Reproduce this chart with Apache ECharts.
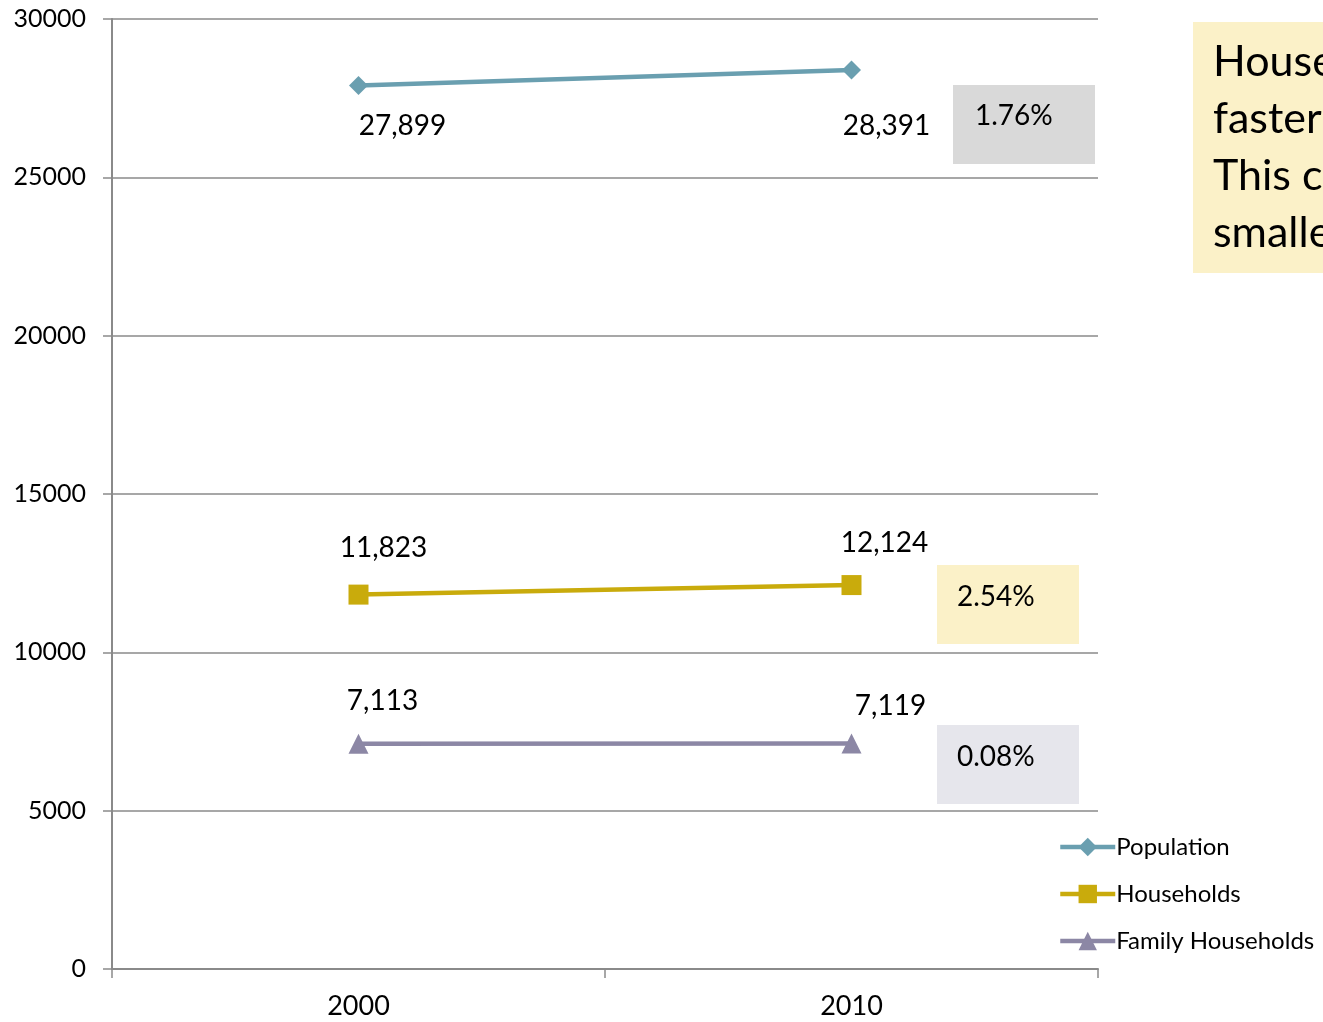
<!DOCTYPE html>
<html>
<head>
<meta charset="utf-8">
<script src="https://cdn.jsdelivr.net/npm/echarts@6/dist/echarts.min.js"></script>
<style>
  html, body { margin: 0; padding: 0; background: #fff; }
  #chart { width: 1323px; height: 1022px; }
</style>
</head>
<body>
<div id="chart"></div>
<script>
// Census counts, 2000 vs 2010
const years = ['2000', '2010'];
const population = [27899, 28391];
const households = [11823, 12124];
const familyHouseholds = [7113, 7119];
const changeLabels = ['1.76%', '2.54%', '0.08%'];
const yTicks = { min: 0, max: 30000, interval: 5000 };

const FONT = 'Lato, "Open Sans", sans-serif';

// per-point label offsets (px) relative to each marker
const popOffsets = [[44, 40], [35, 56]];
const hhOffsets = [[25, -47], [33, -42]];
const famOffsets = [[24, -43], [39, -38]];

function fmt(v) { return v.toLocaleString('en-US'); }

function points(values, offsets) {
  return values.map((v, i) => ({
    value: v,
    label: {
      show: true,
      position: 'inside',
      offset: offsets[i],
      formatter: () => fmt(v),
      color: '#000',
      fontSize: 28,
      fontFamily: FONT
    }
  }));
}

const chart = echarts.init(document.getElementById('chart'));

const option = {
  animation: false,
  backgroundColor: '#fff',
  grid: { left: 112, right: 225, top: 19, bottom: 53 },
  legend: {
    orient: 'vertical',
    left: 1058,
    top: 835,
    padding: 0,
    itemWidth: 55,
    itemHeight: 23,
    itemGap: 23,
    lineStyle: { width: 4.5 },
    textStyle: { fontSize: 24, fontFamily: FONT, color: '#000', padding: [0, 0, 0, -4] },
    data: ['Population', 'Households', 'Family Households']
  },
  xAxis: {
    type: 'category',
    data: years,
    boundaryGap: true,
    axisLine: { lineStyle: { color: '#8a8a8a', width: 2 } },
    axisTick: { show: true, length: 9, lineStyle: { color: '#8a8a8a', width: 1.5 } },
    axisLabel: { fontSize: 27, fontFamily: FONT, color: '#000', margin: 24 }
  },
  yAxis: {
    type: 'value',
    min: yTicks.min,
    max: yTicks.max,
    interval: yTicks.interval,
    axisLine: { show: true, lineStyle: { color: '#8a8a8a', width: 2 } },
    axisTick: { show: true, length: 9, lineStyle: { color: '#8a8a8a', width: 1.5 } },
    splitLine: { lineStyle: { color: '#8a8a8a', width: 1.5 } },
    axisLabel: { fontSize: 25, fontFamily: FONT, color: '#000', margin: 26, formatter: v => String(v) }
  },
  series: [
    {
      name: 'Population',
      type: 'line',
      data: points(population, popOffsets),
      symbol: 'diamond',
      symbolSize: 19,
      lineStyle: { color: '#6a9fb0', width: 4.5 },
      itemStyle: { color: '#6a9fb0' }
    },
    {
      name: 'Households',
      type: 'line',
      data: points(households, hhOffsets),
      symbol: 'rect',
      symbolSize: 20,
      lineStyle: { color: '#c9ab0c', width: 4.5 },
      itemStyle: { color: '#c9ab0c' }
    },
    {
      name: 'Family Households',
      type: 'line',
      data: points(familyHouseholds, famOffsets),
      symbol: 'triangle',
      symbolSize: 20,
      lineStyle: { color: '#8c87a5', width: 4.5 },
      itemStyle: { color: '#8c87a5' }
    }
  ],
  graphic: [
    // change boxes beside the 2010 points
    {
      type: 'group', left: 953, top: 85,
      children: [
        { type: 'rect', shape: { width: 142, height: 79 }, style: { fill: '#d9d9d9' } },
        { type: 'text', x: 22, y: 17, style: { text: changeLabels[0], fontSize: 28, fontFamily: FONT, fill: '#000' } }
      ]
    },
    {
      type: 'group', left: 937, top: 565,
      children: [
        { type: 'rect', shape: { width: 142, height: 79 }, style: { fill: '#fbf1c8' } },
        { type: 'text', x: 20, y: 18, style: { text: changeLabels[1], fontSize: 28, fontFamily: FONT, fill: '#000' } }
      ]
    },
    {
      type: 'group', left: 937, top: 725,
      children: [
        { type: 'rect', shape: { width: 142, height: 79 }, style: { fill: '#e6e6ec' } },
        { type: 'text', x: 20, y: 18, style: { text: changeLabels[2], fontSize: 28, fontFamily: FONT, fill: '#000' } }
      ]
    },
    // note box at the right edge
    {
      type: 'group', left: 1193, top: 22,
      children: [
        { type: 'rect', shape: { width: 300, height: 251 }, style: { fill: '#fbf1c8' } },
        {
          type: 'text', x: 20, y: 12,
          style: {
            text: 'Households grew\nfaster than population.\nThis could mean\nsmaller households.',
            fontSize: 43, lineHeight: 57, fontFamily: FONT, fill: '#000'
          }
        }
      ]
    }
  ]
};

chart.setOption(option);
</script>
</body>
</html>
